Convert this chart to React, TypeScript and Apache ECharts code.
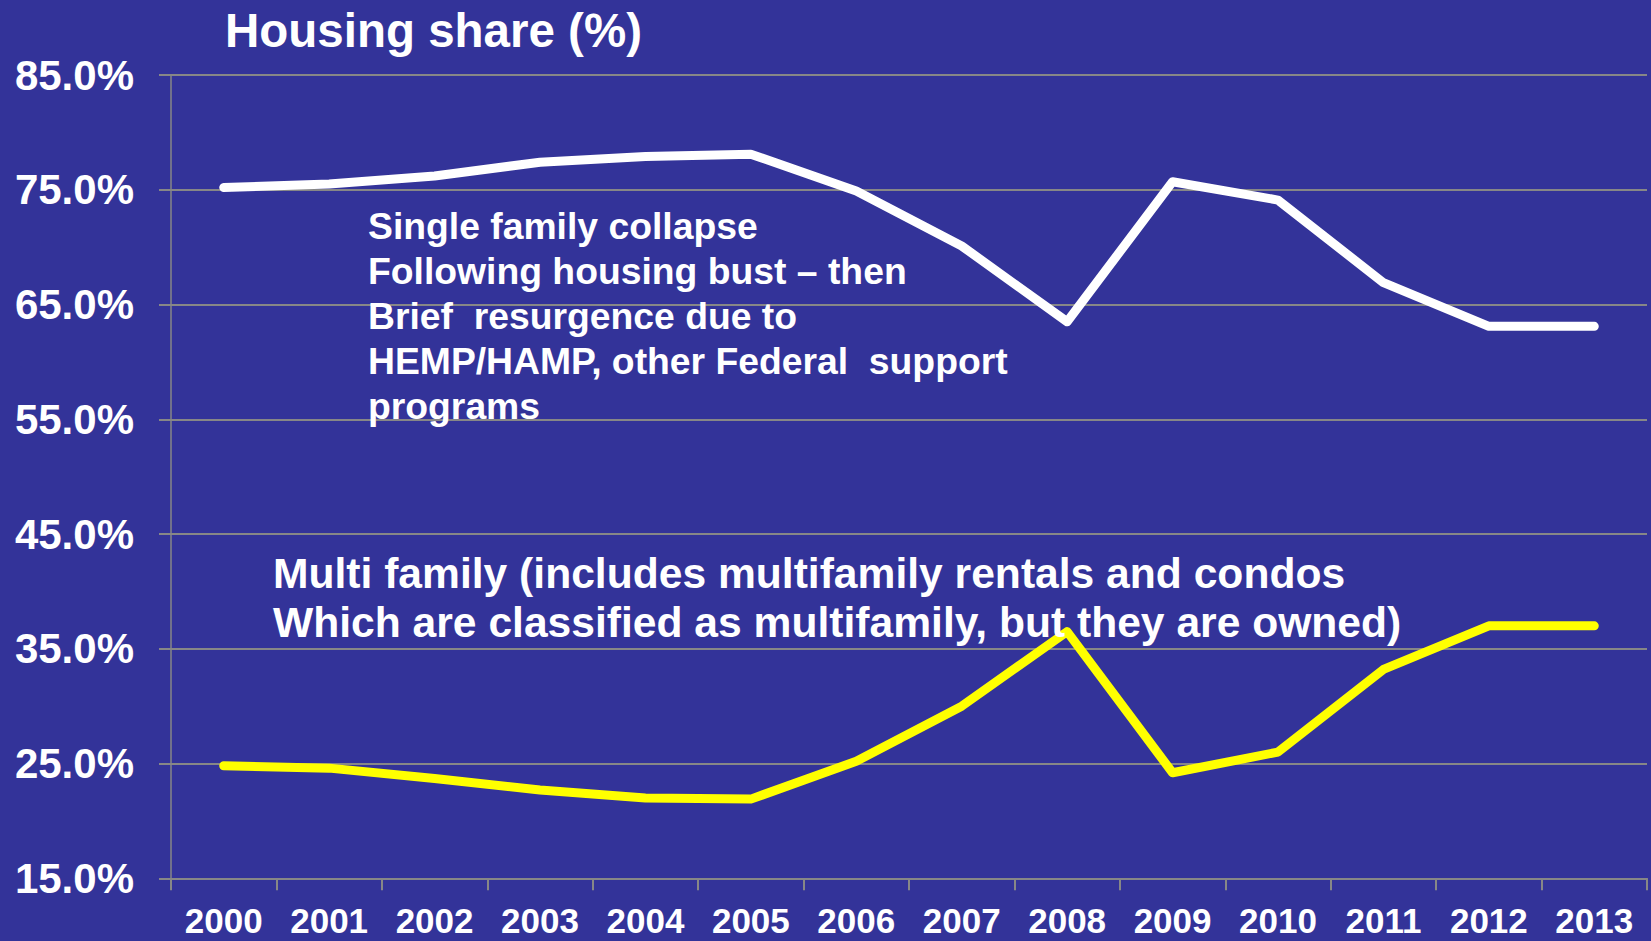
import React, { useEffect, useRef } from "react";
import * as echarts from "echarts";

const years = ["2000","2001","2002","2003","2004","2005","2006","2007","2008","2009","2010","2011","2012","2013"];
const singleFamily = [75.2, 75.5, 76.2, 77.4, 77.9, 78.1, 74.9, 70.1, 63.5, 75.7, 74.1, 66.9, 63.1, 63.1];
const multiFamily = [24.8, 24.6, 23.7, 22.7, 22.0, 21.9, 25.2, 30.0, 36.5, 24.2, 26.0, 33.2, 37.0, 37.0];
const yMin = 15;
const yMax = 85;
const yStep = 10;
const titleText = "Housing share (%)";
const singleNote = [
  "Single family collapse",
  "Following housing bust \u2013 then",
  "Brief  resurgence due to",
  "HEMP/HAMP, other Federal  support",
  "programs",
];
const multiNote = [
  "Multi family (includes multifamily rentals and condos",
  "Which are classified as multifamily, but they are owned)",
];

const FONT = '"Liberation Sans", Arial, Helvetica, sans-serif';
const GRID = "#878787";

export default function App() {
  const ref = useRef<HTMLDivElement>(null);
  useEffect(() => {
    if (!ref.current) return;
    const chart = echarts.init(ref.current, null, { renderer: "svg" });
    chart.setOption({
      animation: false,
      backgroundColor: "#333399",
      grid: { left: 171, right: 4, top: 75, bottom: 62.7 },
      xAxis: {
        type: "category",
        data: years,
        boundaryGap: true,
        axisLine: { show: true, lineStyle: { color: GRID, width: 2 } },
        axisTick: { show: true, length: 12, lineStyle: { color: GRID, width: 2 } },
        axisLabel: {
          color: "#ffffff",
          fontFamily: FONT,
          fontWeight: "bold",
          fontSize: 35,
          lineHeight: 30,
          margin: 27,
        },
        splitLine: { show: false },
      },
      yAxis: {
        type: "value",
        min: yMin,
        max: yMax,
        interval: yStep,
        axisLine: { show: true, lineStyle: { color: GRID, width: 1.5 } },
        axisTick: { show: true, length: 12, lineStyle: { color: GRID, width: 2 } },
        axisLabel: {
          color: "#ffffff",
          fontFamily: FONT,
          fontWeight: "bold",
          fontSize: 42,
          margin: 37,
          formatter: (v: number) => v.toFixed(1) + "%",
        },
        splitLine: { show: true, lineStyle: { color: GRID, width: 2 } },
      },
      series: [
        {
          type: "line",
          name: "Single family",
          data: singleFamily,
          symbol: "none",
          lineStyle: { color: "#ffffff", width: 9, cap: "round", join: "round" },
          z: 3,
        },
        {
          type: "line",
          name: "Multi family",
          data: multiFamily,
          symbol: "none",
          lineStyle: { color: "#ffff00", width: 9, cap: "round", join: "round" },
          z: 3,
        },
      ],
      graphic: [
        {
          type: "text",
          x: 225,
          y: 6.5,
          z: 10,
          style: {
            text: titleText,
            fill: "#ffffff",
            font: `bold 47.5px ${FONT}`,
            lineHeight: 47,
            verticalAlign: "top",
          },
        },
        {
          type: "text",
          x: 368,
          y: 203,
          z: 10,
          style: {
            text: singleNote.join("\n"),
            fill: "#ffffff",
            font: `bold 37.3px ${FONT}`,
            lineHeight: 45,
            verticalAlign: "top",
          },
        },
        {
          type: "text",
          x: 273,
          y: 548.5,
          z: 10,
          style: {
            text: multiNote.join("\n"),
            fill: "#ffffff",
            font: `bold 42.6px ${FONT}`,
            lineHeight: 49,
            verticalAlign: "top",
          },
        },
      ],
    });
    return () => chart.dispose();
  }, []);
  return (
    <div
      ref={ref}
      style={{ position: "fixed", left: 0, top: 0, width: 1651, height: 941 }}
    />
  );
}
